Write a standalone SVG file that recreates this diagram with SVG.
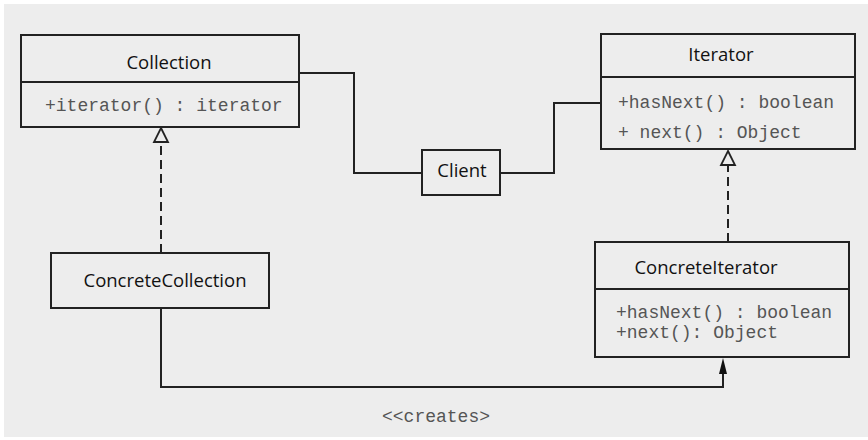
<svg xmlns="http://www.w3.org/2000/svg" width="868" height="440" viewBox="0 0 868 440">
<defs>
<style>
.box{fill:none;stroke:#222;stroke-width:2}
.ln{fill:none;stroke:#222;stroke-width:2}
.dash{fill:none;stroke:#222;stroke-width:2;stroke-dasharray:9 5}
.t{font-family:"Open Sans","Noto Sans",sans-serif;font-size:18.5px;fill:#111}
.m{font-family:"Liberation Mono","DejaVu Sans Mono",monospace;font-size:18px;fill:#555}
</style>
</defs>
<rect x="0" y="0" width="868" height="440" fill="#fff"/>
<rect x="4" y="4" width="864" height="433" fill="#ededed"/>
<g id="connectors">
<polyline class="ln" points="299,73 354,73 354,173 422,173"/>
<polyline class="ln" points="500,173 554,173 554,103 601,103"/>
<line class="dash" x1="161" y1="253" x2="161" y2="142"/>
<path d="M161 128 L168 142 L154 142 Z" fill="#ededed" stroke="#222" stroke-width="1.8"/>
<line class="dash" x1="728" y1="242" x2="728" y2="165"/>
<path d="M728 151 L735 165 L721 165 Z" fill="#ededed" stroke="#222" stroke-width="1.8"/>
<polyline class="ln" points="161,308 161,387 723,387 723,372"/>
<path d="M723 358 L727 374 L719 374 Z" fill="#111"/>
<text class="m" x="382" y="422">&lt;&lt;creates&gt;</text>
</g>
<g id="collection">
<rect class="box" x="21" y="35" width="278" height="92"/>
<line class="ln" x1="21" y1="82" x2="299" y2="82"/>
<text class="t" x="169" y="69" text-anchor="middle">Collection</text>
<text class="m" x="45" y="111">+iterator() : iterator</text>
</g>
<g id="iterator">
<rect class="box" x="601" y="34" width="254" height="115"/>
<line class="ln" x1="601" y1="77" x2="855" y2="77"/>
<text class="t" x="721" y="61" text-anchor="middle">Iterator</text>
<text class="m" x="618" y="108">+hasNext() : boolean</text>
<text class="m" x="618" y="138">+ next() : Object</text>
</g>
<g id="client">
<rect class="box" x="422" y="150" width="78" height="45"/>
<text class="t" x="462" y="177" text-anchor="middle">Client</text>
</g>
<g id="concretecollection">
<rect class="box" x="51" y="253" width="218" height="55"/>
<text class="t" x="165" y="287" text-anchor="middle">ConcreteCollection</text>
</g>
<g id="concreteiterator">
<rect class="box" x="595" y="242" width="254" height="115"/>
<line class="ln" x1="595" y1="289" x2="849" y2="289"/>
<text class="t" x="706" y="274" text-anchor="middle">ConcreteIterator</text>
<text class="m" x="616" y="318">+hasNext() : boolean</text>
<text class="m" x="616" y="338">+next(): Object</text>
</g>
</svg>
